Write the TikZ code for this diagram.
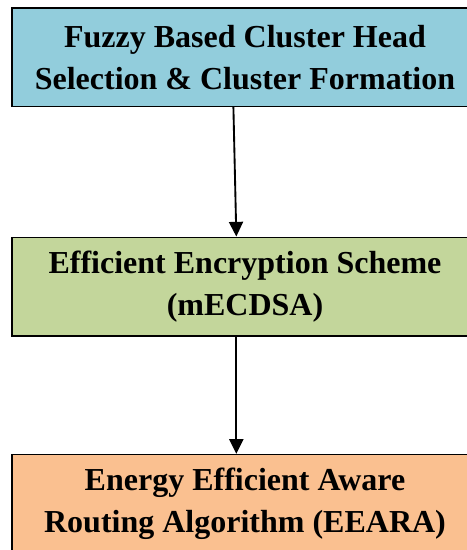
\documentclass[tikz,border=0pt]{standalone}
\usepackage{fontspec}
\setmainfont{Liberation Serif}
\usetikzlibrary{arrows.meta,calc,positioning}
\definecolor{StageBlue}{HTML}{92CDDC}
\definecolor{StageGreen}{HTML}{C3D69B}
\definecolor{StageOrange}{HTML}{FAC090}
\definecolor{Ink}{HTML}{000000}
\begin{document}
\begin{tikzpicture}[
    stagebox/.style={
      draw=Ink,
      line width=1pt,
      minimum width=349.5pt,
      minimum height=74pt,
      inner sep=0pt,
      align=center,
      font=\fontsize{24}{31.5}\selectfont\bfseries
    },
    flow/.style={
      draw=Ink,
      line width=1.4pt,
      -{Triangle[width=10.5pt,length=11pt]}
    }
  ]
  \useasboundingbox (0,0) rectangle (350.25pt,-412.5pt);
  \node[stagebox, fill=StageBlue] (fuzzy) at (183.75pt,-42.9pt)
    {Fuzzy Based Cluster Head\\Selection \& Cluster Formation};
  \node[stagebox, fill=StageGreen, below=97pt of fuzzy] (ecdsa)
    {Efficient Encryption Scheme\\(mECDSA)};
  \node[stagebox, fill=StageOrange, below=88pt of ecdsa] (eeara)
    {Energy Efficient Aware\\Routing Algorithm (EEARA)};
  \draw[flow] ([xshift=-8.7pt]fuzzy.south) -- ([xshift=-6.5pt]ecdsa.north);
  \draw[flow] ([xshift=-6.5pt]ecdsa.south) -- ([xshift=-6.5pt]eeara.north);
\end{tikzpicture}
\end{document}
